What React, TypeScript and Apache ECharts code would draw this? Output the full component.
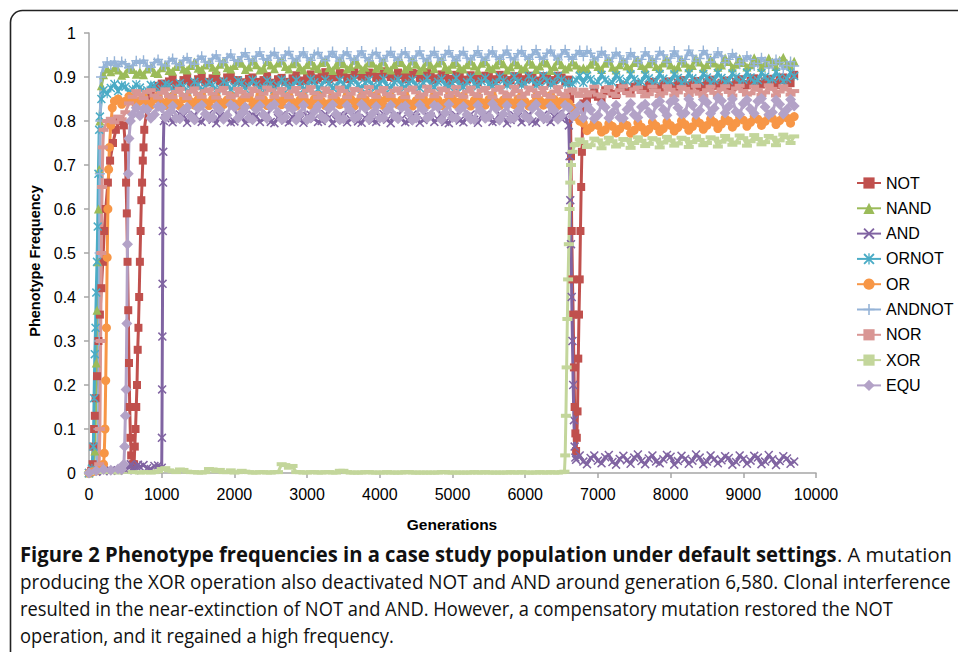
import React, { useEffect, useRef } from "react";
import * as echarts from "echarts";

// ---------- DATA ----------
const X_TICKS = [0, 1000, 2000, 3000, 4000, 5000, 6000, 7000, 8000, 9000, 10000];
const Y_TICKS = [0, 0.1, 0.2, 0.3, 0.4, 0.5, 0.6, 0.7, 0.8, 0.9, 1];

// generations sampled on the plateau part of every run
const GENS = [
  700, 800, 900, 1000, 1100, 1200, 1300, 1400, 1500, 1600,
  1700, 1800, 1900, 2000, 2100, 2200, 2300, 2400, 2500, 2600,
  2700, 2800, 2900, 3000, 3100, 3200, 3300, 3400, 3500, 3600,
  3700, 3800, 3900, 4000, 4100, 4200, 4300, 4400, 4500, 4600,
  4700, 4800, 4900, 5000, 5100, 5200, 5300, 5400, 5500, 5600,
  5700, 5800, 5900, 6000, 6100, 6200, 6300, 6400, 6500, 6600,
  6700, 6800, 6900, 7000, 7100, 7200, 7300, 7400, 7500, 7600,
  7700, 7800, 7900, 8000, 8100, 8200, 8300, 8400, 8500, 8600,
  8700, 8800, 8900, 9000, 9100, 9200, 9300, 9400, 9500, 9600,
  9700,
];
// in-between generations
const GENS_HALF = [
  750, 850, 950, 1050,
  1150, 1250, 1350, 1450, 1550, 1650, 1750, 1850, 1950, 2050,
  2150, 2250, 2350, 2450, 2550, 2650, 2750, 2850, 2950, 3050,
  3150, 3250, 3350, 3450, 3550, 3650, 3750, 3850, 3950, 4050,
  4150, 4250, 4350, 4450, 4550, 4650, 4750, 4850, 4950, 5050,
  5150, 5250, 5350, 5450, 5550, 5650, 5750, 5850, 5950, 6050,
  6150, 6250, 6350, 6450, 6550,
  6850, 6950, 7050, 7150, 7250, 7350, 7450, 7550, 7650, 7750,
  7850, 7950, 8050, 8150, 8250, 8350, 8450, 8550, 8650, 8750,
  8850, 8950, 9050, 9150, 9250, 9350, 9450, 9550, 9650,
];

// NOT
const NOT_EARLY = [
  [0, 0], [30, 0.005], [50, 0.02], [60, 0.06], [70, 0.1], [80, 0.13], [90, 0.17], [110, 0.22],
  [130, 0.3], [150, 0.36], [170, 0.42], [190, 0.48], [210, 0.55], [230, 0.6], [260, 0.66],
  [290, 0.71], [330, 0.75], [370, 0.78], [420, 0.8], [480, 0.79], [500, 0.74], [510, 0.66],
  [520, 0.59], [530, 0.48], [540, 0.37], [550, 0.25], [560, 0.15], [570, 0.08], [580, 0.04],
  [600, 0.02], [620, 0.02], [630, 0.06], [640, 0.1], [650, 0.15], [660, 0.2], [670, 0.28],
  [680, 0.33], [690, 0.4], [710, 0.55], [720, 0.62], [730, 0.66], [740, 0.71], [760, 0.78],
];
const NOT_VALUES = [
  0.48, 0.83, 0.875, 0.885, 0.89, 0.882, 0.893, 0.886, 0.895, 0.888,
  0.897, 0.89, 0.899, 0.892, 0.888, 0.896, 0.889, 0.893, 0.887, 0.895,
  0.889, 0.897, 0.891, 0.899, 0.893, 0.902, 0.895, 0.9, 0.906, 0.898,
  0.905, 0.899, 0.908, 0.901, 0.906, 0.898, 0.904, 0.9, 0.907, 0.899,
  0.904, 0.897, 0.903, 0.896, 0.901, 0.894, 0.9, 0.896, 0.902, 0.895,
  0.899, 0.893, 0.9, 0.895, 0.898, 0.892, 0.897, 0.893, 0.899, 0.894,
  0.05, 0.84, 0.86, 0.855, 0.87, 0.862, 0.875, 0.868, 0.878, 0.871,
  0.882, 0.876, 0.885, 0.879, 0.887, 0.881, 0.886, 0.88, 0.888, 0.883,
  0.887, 0.881, 0.889, 0.884, 0.891, 0.885, 0.89, 0.886, 0.893, 0.888,
  0.905,
];
const NOT_HALF = [
  0.74, 0.86, 0.88, 0.878,
  0.896, 0.884, 0.899, 0.887, 0.901, 0.889, 0.903, 0.885, 0.9, 0.893,
  0.884, 0.899, 0.886, 0.902, 0.883, 0.898, 0.888, 0.904, 0.892, 0.906,
  0.897, 0.911, 0.899, 0.909, 0.895, 0.912, 0.901, 0.91, 0.898, 0.913,
  0.9, 0.91, 0.895, 0.909, 0.897, 0.911, 0.893, 0.906, 0.891, 0.905,
  0.89, 0.904, 0.888, 0.903, 0.889, 0.905, 0.887, 0.902, 0.886, 0.903,
  0.888, 0.902, 0.887, 0.903, 0.889,
  0.848, 0.872, 0.85, 0.868, 0.859, 0.881, 0.864, 0.884, 0.872, 0.889,
  0.874, 0.89, 0.877, 0.893, 0.879, 0.891, 0.876, 0.894, 0.88, 0.892,
  0.878, 0.895, 0.881, 0.897, 0.883, 0.896, 0.882, 0.899, 0.886,
];
const NOT_EXTRA = [
  [6620, 0.85], [6630, 0.72], [6640, 0.55], [6650, 0.44], [6660, 0.36], [6670, 0.24], [6680, 0.15],
  [6690, 0.09], [6710, 0.08], [6720, 0.14], [6730, 0.26], [6740, 0.36], [6750, 0.44], [6760, 0.55],
  [6770, 0.65], [6780, 0.73], [6790, 0.8],
];

// NAND
const NAND_EARLY = [
  [0, 0], [50, 0.005], [80, 0.05], [100, 0.25], [110, 0.37], [120, 0.48], [130, 0.6], [140, 0.69],
  [150, 0.8], [170, 0.88], [200, 0.905], [250, 0.918], [300, 0.912], [350, 0.921], [400, 0.916],
  [450, 0.904], [500, 0.908], [550, 0.92], [600, 0.917], [650, 0.906],
];
const NAND_VALUES = [
  0.912, 0.918, 0.91, 0.921, 0.915, 0.924, 0.918, 0.926, 0.92, 0.927,
  0.922, 0.929, 0.921, 0.926, 0.931, 0.923, 0.928, 0.92, 0.927, 0.932,
  0.924, 0.93, 0.922, 0.928, 0.925, 0.933, 0.921, 0.927, 0.93, 0.924,
  0.929, 0.922, 0.931, 0.926, 0.92, 0.928, 0.933, 0.924, 0.929, 0.922,
  0.927, 0.932, 0.923, 0.929, 0.921, 0.928, 0.925, 0.931, 0.922, 0.927,
  0.93, 0.923, 0.928, 0.921, 0.929, 0.925, 0.932, 0.924, 0.928, 0.923,
  0.927, 0.921, 0.929, 0.924, 0.931, 0.922, 0.928, 0.925, 0.933, 0.926,
  0.93, 0.924, 0.932, 0.927, 0.923, 0.931, 0.926, 0.934, 0.928, 0.932,
  0.927, 0.935, 0.929, 0.933, 0.928, 0.936, 0.93, 0.934, 0.938, 0.931,
  0.936,
];
const NAND_HALF = [
  0.905, 0.922, 0.908, 0.928,
  0.913, 0.93, 0.916, 0.934, 0.917, 0.933, 0.915, 0.936, 0.918, 0.935,
  0.917, 0.937, 0.916, 0.935, 0.919, 0.938, 0.918, 0.934, 0.916, 0.936,
  0.919, 0.937, 0.915, 0.935, 0.918, 0.938, 0.917, 0.933, 0.92, 0.936,
  0.916, 0.935, 0.918, 0.937, 0.915, 0.934, 0.919, 0.938, 0.917, 0.933,
  0.918, 0.936, 0.915, 0.935, 0.919, 0.937, 0.916, 0.934, 0.918, 0.936,
  0.917, 0.935, 0.915, 0.937, 0.918,
  0.918, 0.936, 0.917, 0.938, 0.916, 0.937, 0.919, 0.939, 0.918, 0.938,
  0.92, 0.94, 0.918, 0.939, 0.921, 0.942, 0.92, 0.94, 0.922, 0.943,
  0.921, 0.942, 0.923, 0.944, 0.922, 0.943, 0.924, 0.945, 0.925,
];
const NAND_EXTRA = [[6650, 0.934], [6750, 0.918]];

// AND
const AND_EARLY = [
  [0, 0], [100, 0.003], [200, 0.004], [300, 0.006], [400, 0.005], [500, 0.008], [550, 0.012],
  [575, 0.02], [600, 0.01], [625, 0.006], [650, 0.015], [675, 0.019],
];
const AND_VALUES = [
  0.014, 0.011, 0.016, 0.012, 0.81, 0.804, 0.812, 0.806, 0.801, 0.809,
  0.803, 0.811, 0.805, 0.799, 0.808, 0.802, 0.81, 0.804, 0.798, 0.807,
  0.801, 0.809, 0.803, 0.811, 0.805, 0.8, 0.808, 0.802, 0.81, 0.804,
  0.799, 0.807, 0.801, 0.809, 0.803, 0.811, 0.805, 0.8, 0.808, 0.802,
  0.81, 0.804, 0.798, 0.806, 0.801, 0.809, 0.803, 0.811, 0.805, 0.8,
  0.807, 0.802, 0.81, 0.804, 0.799, 0.808, 0.803, 0.81, 0.805, 0.79,
  0.03, 0.026, 0.034, 0.028, 0.036, 0.025, 0.032, 0.029, 0.035, 0.027,
  0.033, 0.026, 0.031, 0.037, 0.027, 0.032, 0.028, 0.035, 0.026, 0.031,
  0.029, 0.034, 0.025, 0.032, 0.028, 0.035, 0.026, 0.031, 0.027, 0.033,
  0.026,
];
const AND_HALF = [
  0.018, 0.009, 0.017, 0.806,
  0.797, 0.815, 0.796, 0.814, 0.798, 0.816, 0.795, 0.813, 0.797, 0.815,
  0.796, 0.814, 0.798, 0.816, 0.795, 0.813, 0.797, 0.815, 0.796, 0.814,
  0.798, 0.816, 0.795, 0.813, 0.797, 0.815, 0.796, 0.814, 0.798, 0.816,
  0.795, 0.813, 0.797, 0.815, 0.796, 0.814, 0.798, 0.816, 0.795, 0.813,
  0.797, 0.815, 0.796, 0.814, 0.798, 0.816, 0.795, 0.813, 0.797, 0.815,
  0.796, 0.814, 0.798, 0.816, 0.81,
  0.02, 0.04, 0.022, 0.041, 0.019, 0.039, 0.021, 0.042, 0.02, 0.04,
  0.022, 0.041, 0.019, 0.039, 0.021, 0.042, 0.02, 0.04, 0.022, 0.038,
  0.019, 0.04, 0.021, 0.039, 0.02, 0.041, 0.018, 0.038, 0.021,
];
const AND_EXTRA = [
  [1003, 0.08], [1006, 0.19], [1009, 0.31], [1012, 0.43], [1015, 0.55], [1018, 0.66], [1021, 0.73],
  [1030, 0.8],
  [6610, 0.72], [6620, 0.62], [6630, 0.52], [6640, 0.4], [6650, 0.3], [6660, 0.2], [6670, 0.12],
  [6680, 0.06], [6690, 0.035], [6750, 0.04],
];

// ORNOT
const ORNOT_EARLY = [
  [0, 0], [40, 0.01], [60, 0.06], [70, 0.17], [80, 0.27], [90, 0.33], [100, 0.41], [110, 0.48],
  [120, 0.56], [130, 0.68], [140, 0.78], [150, 0.81], [170, 0.85], [200, 0.87], [250, 0.862],
  [300, 0.875], [350, 0.884], [400, 0.868], [450, 0.881], [500, 0.878], [550, 0.865], [600, 0.872],
  [650, 0.883],
];
const ORNOT_VALUES = [
  0.876, 0.87, 0.88, 0.873, 0.882, 0.875, 0.879, 0.872, 0.883, 0.877,
  0.881, 0.874, 0.884, 0.878, 0.886, 0.879, 0.883, 0.876, 0.885, 0.88,
  0.887, 0.879, 0.884, 0.878, 0.888, 0.881, 0.886, 0.879, 0.884, 0.889,
  0.882, 0.887, 0.88, 0.885, 0.879, 0.888, 0.882, 0.886, 0.88, 0.887,
  0.883, 0.889, 0.881, 0.886, 0.88, 0.888, 0.884, 0.89, 0.883, 0.887,
  0.892, 0.885, 0.89, 0.884, 0.893, 0.886, 0.891, 0.887, 0.894, 0.888,
  0.893, 0.887, 0.895, 0.889, 0.894, 0.888, 0.896, 0.89, 0.895, 0.889,
  0.897, 0.891, 0.896, 0.89, 0.898, 0.892, 0.897, 0.891, 0.899, 0.893,
  0.898, 0.892, 0.9, 0.894, 0.899, 0.893, 0.901, 0.895, 0.9, 0.896,
  0.902,
];
const ORNOT_HALF = [
  0.866, 0.882, 0.865, 0.884,
  0.868, 0.886, 0.867, 0.889, 0.869, 0.888, 0.87, 0.89, 0.871, 0.892,
  0.872, 0.893, 0.873, 0.892, 0.871, 0.894, 0.874, 0.893, 0.872, 0.895,
  0.873, 0.894, 0.875, 0.893, 0.872, 0.895, 0.874, 0.894, 0.876, 0.896,
  0.874, 0.895, 0.876, 0.894, 0.875, 0.897, 0.877, 0.896, 0.878, 0.898,
  0.877, 0.899, 0.879, 0.898, 0.88, 0.9, 0.881, 0.901, 0.882, 0.902,
  0.881, 0.903, 0.883, 0.902, 0.884,
  0.903, 0.882, 0.905, 0.884, 0.904, 0.883, 0.906, 0.885, 0.905, 0.884,
  0.907, 0.885, 0.906, 0.886, 0.908, 0.887, 0.907, 0.886, 0.909, 0.888,
  0.908, 0.887, 0.91, 0.888, 0.909, 0.889, 0.911, 0.89, 0.91,
];
const ORNOT_EXTRA = [[6650, 0.884], [6750, 0.903]];

// OR
const OR_EARLY = [
  [0, 0], [50, 0.003], [100, 0.005], [150, 0.01], [200, 0.02], [210, 0.045], [220, 0.1], [230, 0.21],
  [240, 0.33], [250, 0.49], [260, 0.6], [270, 0.69], [280, 0.74], [300, 0.79], [320, 0.83],
  [350, 0.845], [400, 0.85], [450, 0.838], [500, 0.845], [550, 0.856], [600, 0.848], [650, 0.836],
];
const OR_VALUES = [
  0.846, 0.84, 0.85, 0.843, 0.848, 0.841, 0.851, 0.844, 0.849, 0.842,
  0.85, 0.843, 0.848, 0.84, 0.847, 0.852, 0.844, 0.849, 0.841, 0.846,
  0.851, 0.843, 0.848, 0.842, 0.85, 0.845, 0.84, 0.848, 0.843, 0.85,
  0.844, 0.849, 0.841, 0.847, 0.852, 0.843, 0.848, 0.84, 0.846, 0.851,
  0.843, 0.848, 0.841, 0.85, 0.844, 0.839, 0.847, 0.842, 0.849, 0.843,
  0.848, 0.842, 0.85, 0.844, 0.839, 0.847, 0.842, 0.849, 0.845, 0.84,
  0.81, 0.795, 0.785, 0.79, 0.78, 0.788, 0.782, 0.79, 0.779, 0.786,
  0.781, 0.789, 0.783, 0.79, 0.785, 0.792, 0.787, 0.795, 0.79, 0.797,
  0.793, 0.8, 0.795, 0.802, 0.797, 0.804, 0.799, 0.806, 0.801, 0.807,
  0.81,
];
const OR_HALF = [
  0.855, 0.836, 0.857, 0.835,
  0.856, 0.834, 0.855, 0.836, 0.858, 0.835, 0.856, 0.837, 0.857, 0.834,
  0.855, 0.836, 0.858, 0.835, 0.856, 0.837, 0.857, 0.834, 0.855, 0.836,
  0.858, 0.835, 0.856, 0.837, 0.857, 0.834, 0.855, 0.836, 0.858, 0.835,
  0.856, 0.837, 0.857, 0.834, 0.855, 0.836, 0.858, 0.835, 0.856, 0.837,
  0.857, 0.834, 0.855, 0.836, 0.858, 0.835, 0.856, 0.837, 0.857, 0.834,
  0.855, 0.836, 0.858, 0.835, 0.852,
  0.778, 0.796, 0.775, 0.794, 0.773, 0.795, 0.772, 0.796, 0.774, 0.797,
  0.776, 0.798, 0.777, 0.8, 0.779, 0.802, 0.781, 0.804, 0.783, 0.806,
  0.786, 0.808, 0.788, 0.81, 0.79, 0.812, 0.792, 0.814, 0.795,
];
const OR_EXTRA = [[6650, 0.83], [6750, 0.8]];

// ANDNOT
const ANDNOT_EARLY = [
  [0, 0], [100, 0.005], [130, 0.1], [140, 0.3], [145, 0.5], [150, 0.68], [155, 0.8], [165, 0.9],
  [200, 0.922], [250, 0.934], [300, 0.927], [350, 0.936], [400, 0.924], [450, 0.935], [500, 0.93],
  [550, 0.921], [600, 0.926], [650, 0.937],
];
const ANDNOT_VALUES = [
  0.931, 0.925, 0.933, 0.928, 0.936, 0.93, 0.938, 0.932, 0.94, 0.934,
  0.942, 0.936, 0.944, 0.938, 0.946, 0.94, 0.947, 0.941, 0.949, 0.943,
  0.95, 0.942, 0.948, 0.944, 0.951, 0.943, 0.947, 0.945, 0.95, 0.942,
  0.948, 0.944, 0.951, 0.943, 0.949, 0.945, 0.952, 0.944, 0.948, 0.942,
  0.949, 0.944, 0.951, 0.946, 0.95, 0.943, 0.949, 0.945, 0.952, 0.946,
  0.95, 0.944, 0.953, 0.947, 0.951, 0.945, 0.954, 0.948, 0.952, 0.946,
  0.951, 0.947, 0.954, 0.945, 0.95, 0.943, 0.948, 0.941, 0.946, 0.94,
  0.948, 0.941, 0.95, 0.943, 0.947, 0.94, 0.949, 0.942, 0.951, 0.944,
  0.948, 0.94, 0.945, 0.936, 0.94, 0.931, 0.935, 0.928, 0.933, 0.926,
  0.925,
];
const ANDNOT_HALF = [
  0.938, 0.922, 0.94, 0.925,
  0.942, 0.926, 0.944, 0.929, 0.947, 0.931, 0.95, 0.933, 0.952, 0.935,
  0.955, 0.936, 0.957, 0.938, 0.956, 0.937, 0.958, 0.936, 0.957, 0.938,
  0.956, 0.937, 0.958, 0.936, 0.957, 0.938, 0.959, 0.937, 0.956, 0.936,
  0.958, 0.938, 0.957, 0.937, 0.959, 0.936, 0.958, 0.938, 0.96, 0.937,
  0.958, 0.939, 0.96, 0.938, 0.959, 0.94, 0.961, 0.939, 0.96, 0.94,
  0.962, 0.94, 0.961, 0.939, 0.962,
  0.96, 0.939, 0.958, 0.935, 0.956, 0.934, 0.955, 0.933, 0.957, 0.935,
  0.958, 0.934, 0.959, 0.935, 0.961, 0.936, 0.96, 0.934, 0.957, 0.933,
  0.953, 0.929, 0.948, 0.925, 0.944, 0.921, 0.94, 0.918, 0.935,
];
const ANDNOT_EXTRA = [[6650, 0.94], [6750, 0.96]];

// NOR
const NOR_EARLY = [
  [0, 0], [100, 0.005], [140, 0.02], [150, 0.1], [160, 0.3], [170, 0.5], [180, 0.65], [190, 0.74],
  [200, 0.78], [250, 0.8], [300, 0.805], [350, 0.797], [400, 0.81], [450, 0.804], [500, 0.82],
  [550, 0.84], [600, 0.855], [650, 0.868],
];
const NOR_VALUES = [
  0.86, 0.866, 0.858, 0.864, 0.857, 0.866, 0.859, 0.867, 0.861, 0.868,
  0.862, 0.869, 0.863, 0.858, 0.866, 0.86, 0.868, 0.862, 0.87, 0.864,
  0.859, 0.867, 0.861, 0.869, 0.863, 0.858, 0.866, 0.86, 0.868, 0.862,
  0.87, 0.864, 0.859, 0.867, 0.861, 0.869, 0.863, 0.871, 0.865, 0.86,
  0.868, 0.862, 0.87, 0.864, 0.859, 0.867, 0.861, 0.869, 0.863, 0.871,
  0.865, 0.86, 0.868, 0.862, 0.87, 0.864, 0.859, 0.867, 0.861, 0.869,
  0.863, 0.871, 0.865, 0.86, 0.868, 0.862, 0.87, 0.864, 0.872, 0.866,
  0.861, 0.869, 0.863, 0.871, 0.865, 0.873, 0.867, 0.862, 0.87, 0.864,
  0.872, 0.866, 0.874, 0.868, 0.863, 0.871, 0.865, 0.873, 0.867, 0.872,
  0.868,
];
const NOR_HALF = [
  0.852, 0.87, 0.853, 0.872,
  0.854, 0.873, 0.852, 0.874, 0.855, 0.872, 0.853, 0.875, 0.854, 0.873,
  0.856, 0.874, 0.853, 0.876, 0.855, 0.873, 0.854, 0.875, 0.856, 0.877,
  0.853, 0.874, 0.855, 0.876, 0.854, 0.873, 0.856, 0.877, 0.855, 0.875,
  0.857, 0.874, 0.854, 0.876, 0.855, 0.878, 0.856, 0.874, 0.857, 0.877,
  0.855, 0.876, 0.857, 0.875, 0.854, 0.877, 0.856, 0.878, 0.855, 0.876,
  0.857, 0.875, 0.855, 0.877, 0.856,
  0.858, 0.878, 0.856, 0.877, 0.857, 0.879, 0.858, 0.876, 0.856, 0.878,
  0.857, 0.879, 0.858, 0.877, 0.859, 0.88, 0.857, 0.878, 0.859, 0.879,
  0.858, 0.88, 0.86, 0.878, 0.859, 0.881, 0.858, 0.879, 0.86,
];
const NOR_EXTRA = [[6650, 0.872], [6750, 0.857]];

// XOR
const XOR_EARLY = [[0, 0], [200, 0.002], [400, 0.001], [600, 0.002]];
const XOR_VALUES = [
  0.001, 0.002, 0.002, 0.009, 0.006, 0.002, 0.007, 0.002, 0.001, 0.002,
  0.008, 0.007, 0.002, 0.001, 0.005, 0.002, 0.001, 0.002, 0.001, 0.002,
  0.018, 0.016, 0.002, 0.001, 0.002, 0.001, 0.002, 0.001, 0.005, 0.001,
  0.001, 0.002, 0.001, 0.001, 0.002, 0.001, 0.001, 0.002, 0.001, 0.001,
  0.001, 0.001, 0.002, 0.001, 0.001, 0.001, 0.002, 0.001, 0.001, 0.001,
  0.001, 0.002, 0.001, 0.001, 0.001, 0.002, 0.001, 0.001, 0.002, 0.52,
  0.748, 0.752, 0.745, 0.756, 0.749, 0.754, 0.746, 0.757, 0.75, 0.755,
  0.748, 0.758, 0.751, 0.756, 0.749, 0.759, 0.752, 0.757, 0.75, 0.76,
  0.753, 0.758, 0.751, 0.761, 0.754, 0.759, 0.752, 0.762, 0.756, 0.763,
  0.765,
];
const XOR_HALF = [
  0.002, 0.001, 0.004, 0.011,
  0.004, 0.008, 0.003, 0.002, 0.001, 0.009, 0.004, 0.002, 0.006, 0.002,
  0.003, 0.001, 0.002, 0.001, 0.002, 0.02, 0.012, 0.002, 0.001, 0.002,
  0.001, 0.002, 0.001, 0.005, 0.002, 0.001, 0.001, 0.002, 0.001, 0.001,
  0.001, 0.001, 0.002, 0.001, 0.001, 0.001, 0.001, 0.002, 0.001, 0.001,
  0.001, 0.001, 0.001, 0.002, 0.001, 0.001, 0.001, 0.001, 0.002, 0.001,
  0.001, 0.001, 0.002, 0.001, 0.04,
  0.741, 0.76, 0.738, 0.762, 0.742, 0.759, 0.739, 0.763, 0.743, 0.761,
  0.74, 0.764, 0.744, 0.762, 0.741, 0.765, 0.745, 0.763, 0.742, 0.766,
  0.746, 0.767, 0.744, 0.768, 0.747, 0.766, 0.745, 0.769, 0.75,
];
const XOR_EXTRA = [
  [6540, 0.003], [6560, 0.13], [6570, 0.24], [6580, 0.35], [6590, 0.44], [6610, 0.6],
  [6620, 0.66], [6630, 0.7], [6650, 0.73], [6680, 0.745], [6750, 0.758],
];

// EQU
const EQU_EARLY = [
  [0, 0], [100, 0.005], [200, 0.008], [300, 0.006], [400, 0.009], [450, 0.008], [480, 0.02],
  [490, 0.06], [500, 0.13], [510, 0.19], [520, 0.34], [530, 0.52], [540, 0.68], [550, 0.76],
  [570, 0.8], [600, 0.815], [650, 0.83],
];
const EQU_VALUES = [
  0.812, 0.826, 0.815, 0.83, 0.818, 0.806, 0.824, 0.811, 0.829, 0.816,
  0.808, 0.825, 0.813, 0.831, 0.819, 0.807, 0.826, 0.814, 0.832, 0.82,
  0.809, 0.827, 0.815, 0.803, 0.822, 0.81, 0.828, 0.816, 0.805, 0.823,
  0.811, 0.829, 0.817, 0.806, 0.824, 0.812, 0.83, 0.818, 0.807, 0.825,
  0.813, 0.831, 0.819, 0.808, 0.826, 0.814, 0.803, 0.821, 0.81, 0.828,
  0.816, 0.805, 0.823, 0.811, 0.829, 0.817, 0.806, 0.824, 0.812, 0.83,
  0.818, 0.807, 0.825, 0.813, 0.831, 0.819, 0.808, 0.826, 0.814, 0.832,
  0.82, 0.838, 0.826, 0.843, 0.83, 0.818, 0.836, 0.824, 0.842, 0.829,
  0.846, 0.833, 0.821, 0.839, 0.827, 0.845, 0.832, 0.82, 0.838, 0.826,
  0.834,
];
const EQU_HALF = [
  0.828, 0.806, 0.833, 0.808,
  0.834, 0.805, 0.831, 0.803, 0.836, 0.807, 0.833, 0.804, 0.837, 0.806,
  0.832, 0.803, 0.835, 0.806, 0.838, 0.804, 0.833, 0.802, 0.836, 0.807,
  0.834, 0.805, 0.837, 0.803, 0.835, 0.806, 0.838, 0.804, 0.833, 0.807,
  0.836, 0.805, 0.834, 0.802, 0.837, 0.806, 0.835, 0.803, 0.838, 0.807,
  0.833, 0.804, 0.836, 0.806, 0.839, 0.803, 0.835, 0.807, 0.837, 0.805,
  0.838, 0.806, 0.834, 0.804, 0.836,
  0.837, 0.805, 0.839, 0.807, 0.836, 0.806, 0.84, 0.808, 0.838, 0.811,
  0.845, 0.813, 0.848, 0.816, 0.85, 0.815, 0.849, 0.817, 0.852, 0.818,
  0.85, 0.815, 0.848, 0.817, 0.851, 0.814, 0.847, 0.816, 0.849,
];
const EQU_EXTRA = [[6650, 0.81], [6750, 0.835]];

// ---------- TEXT ----------
const Y_TITLE = "Phenotype Frequency";
const X_TITLE = "Generations";
const CAPTION_BOLD = "Figure 2 Phenotype frequencies in a case study population under default settings";
const CAPTION_LINES = [
  ". A mutation",
  "producing the XOR operation also deactivated NOT and AND around generation 6,580. Clonal interference",
  "resulted in the near-extinction of NOT and AND. However, a compensatory mutation restored the NOT",
  "operation, and it regained a high frequency.",
];

// ---------- STYLE ----------
const X_PATH = "path://M0,1.2L1.2,0L5,3.8L8.8,0L10,1.2L6.2,5L10,8.8L8.8,10L5,6.2L1.2,10L0,8.8L3.8,5Z";
const STAR_PATH =
  "path://M0,1.2L1.2,0L5,3.8L8.8,0L10,1.2L6.2,5L10,8.8L8.8,10L5,6.2L1.2,10L0,8.8L3.8,5Z M4.4,0L5.6,0L5.6,10L4.4,10Z";
const PLUS_PATH = "path://M4.3,0H5.7V4.3H10V5.7H5.7V10H4.3V5.7H0V4.3H4.3Z";

const SERIES = [
  { name: "NOT", color: "#C0504D", symbol: "rect", size: 8, early: NOT_EARLY, values: NOT_VALUES, half: NOT_HALF, extra: NOT_EXTRA },
  { name: "NAND", color: "#9BBB59", symbol: "triangle", size: 9, early: NAND_EARLY, values: NAND_VALUES, half: NAND_HALF, extra: NAND_EXTRA },
  { name: "AND", color: "#8064A2", symbol: X_PATH, size: 9, early: AND_EARLY, values: AND_VALUES, half: AND_HALF, extra: AND_EXTRA },
  { name: "ORNOT", color: "#4BACC6", symbol: STAR_PATH, size: 9, early: ORNOT_EARLY, values: ORNOT_VALUES, half: ORNOT_HALF, extra: ORNOT_EXTRA },
  { name: "OR", color: "#F79646", symbol: "circle", size: 9, early: OR_EARLY, values: OR_VALUES, half: OR_HALF, extra: OR_EXTRA },
  { name: "ANDNOT", color: "#95B3D7", symbol: PLUS_PATH, size: 10, early: ANDNOT_EARLY, values: ANDNOT_VALUES, half: ANDNOT_HALF, extra: ANDNOT_EXTRA },
  { name: "NOR", color: "#D99694", symbol: "rect", size: [10, 4], early: NOR_EARLY, values: NOR_VALUES, half: NOR_HALF, extra: NOR_EXTRA },
  { name: "XOR", color: "#C3D69B", symbol: "rect", size: [10, 4], early: XOR_EARLY, values: XOR_VALUES, half: XOR_HALF, extra: XOR_EXTRA },
  { name: "EQU", color: "#B3A2C7", symbol: "diamond", size: 11, early: EQU_EARLY, values: EQU_VALUES, half: EQU_HALF, extra: EQU_EXTRA },
];

const FONT = "'Liberation Sans', Arial, sans-serif";
const CAP_FONT = "'Open Sans', 'Noto Sans', sans-serif";
const CAP_SIZE = 20.5;

function measure(text: string, font: string): number {
  const c = document.createElement("canvas").getContext("2d");
  if (!c) return text.length * 9;
  c.font = font;
  return c.measureText(text).width;
}

export default function App() {
  const ref = useRef<HTMLDivElement>(null);

  useEffect(() => {
    if (!ref.current) return;
    const chart = echarts.init(ref.current, null, { renderer: "svg" });

    const series = SERIES.map((s) => {
      const data = [
        ...s.early,
        ...GENS.map((g, i) => [g, s.values[i]]),
        ...GENS_HALF.map((g, i) => [g, s.half[i]]),
        ...s.extra,
      ]
        .filter((p) => typeof p[1] === "number")
        .sort((a, b) => a[0] - b[0]);
      return {
        type: "line",
        name: s.name,
        data,
        symbol: s.symbol,
        symbolSize: s.size,
        showSymbol: true,
        showAllSymbol: true,
        lineStyle: { color: s.color, width: 3 },
        itemStyle: { color: s.color },
        emphasis: { disabled: true },
        animation: false,
      };
    });

    // caption layout
    const regF = `${CAP_SIZE}px ${CAP_FONT}`;
    const boldF = `bold ${CAP_SIZE}px ${CAP_FONT}`;
    const w1 = measure(CAPTION_BOLD, boldF) + measure(CAPTION_LINES[0], regF);
    const w2 = measure(CAPTION_LINES[1], regF);
    const w3 = measure(CAPTION_LINES[2], regF);
    const s1 = 932 / w1;
    const s2 = 932 / w2;
    const s3 = 873 / w3;
    const capY = [554, 581, 608, 635];

    const capStyle = { fontSize: CAP_SIZE, fontFamily: CAP_FONT, fill: "#111" };

    const option = {
      animation: false,
      backgroundColor: "#fff",
      grid: { left: 89, right: 142, top: 33, bottom: 179, containLabel: false, outerBoundsMode: "none" },
      xAxis: {
        type: "value",
        min: 0,
        max: 10000,
        interval: 1000,
        axisLine: { show: true, lineStyle: { color: "#A6A6A6", width: 1.5 } },
        axisTick: { show: true, length: 5, lineStyle: { color: "#A6A6A6", width: 1.5 } },
        splitLine: { show: false },
        axisLabel: {
          show: true,
          margin: 13,
          color: "#000",
          fontSize: 16,
          fontFamily: FONT,
          formatter: (v: number) => String(v),
        },
      },
      yAxis: {
        type: "value",
        min: 0,
        max: 1,
        interval: 0.1,
        axisLine: { show: true, lineStyle: { color: "#A6A6A6", width: 1.5 } },
        axisTick: { show: true, length: 5, lineStyle: { color: "#A6A6A6", width: 1.5 } },
        splitLine: { show: false },
        axisLabel: {
          show: true,
          margin: 13,
          color: "#000",
          fontSize: 16,
          fontFamily: FONT,
          formatter: (v: number) => String(+v.toFixed(1)),
        },
      },
      legend: {
        show: true,
        orient: "vertical",
        left: 856,
        top: 175,
        padding: 0,
        itemWidth: 24,
        itemHeight: 14,
        itemGap: 9.3,
        textStyle: { color: "#000", fontSize: 16, fontFamily: FONT },
        data: SERIES.map((s) => s.name),
        selectedMode: false,
      },
      series,
      graphic: {
        elements: [
          {
            type: "rect",
            silent: true,
            z: -10,
            shape: { x: 10.5, y: 10.5, width: 1000, height: 700, r: 12 },
            style: { fill: "none", stroke: "#222", lineWidth: 1.6 },
          },
          {
            type: "text",
            x: 35,
            y: 261,
            rotation: Math.PI / 2,
            style: {
              text: Y_TITLE,
              fontSize: 14.5,
              fontWeight: "bold",
              fontFamily: FONT,
              fill: "#000",
              textAlign: "center",
              textVerticalAlign: "middle",
            },
          },
          {
            type: "text",
            x: 452,
            y: 524,
            style: {
              text: X_TITLE,
              fontSize: 15.5,
              fontWeight: "bold",
              fontFamily: FONT,
              fill: "#000",
              textAlign: "center",
              textVerticalAlign: "middle",
            },
          },
          {
            type: "text",
            x: 20,
            y: capY[0],
            scaleX: s1,
            style: {
              ...capStyle,
              text: `{b|${CAPTION_BOLD}}${CAPTION_LINES[0]}`,
              rich: { b: { fontWeight: "bold", fontSize: CAP_SIZE, fontFamily: CAP_FONT, fill: "#111" } },
              textAlign: "left",
              textVerticalAlign: "middle",
            },
          },
          {
            type: "text",
            x: 20,
            y: capY[1],
            scaleX: s2,
            style: { ...capStyle, text: CAPTION_LINES[1], textAlign: "left", textVerticalAlign: "middle" },
          },
          {
            type: "text",
            x: 20,
            y: capY[2],
            scaleX: s3,
            style: { ...capStyle, text: CAPTION_LINES[2], textAlign: "left", textVerticalAlign: "middle" },
          },
          {
            type: "text",
            x: 20,
            y: capY[3],
            scaleX: s3,
            style: { ...capStyle, text: CAPTION_LINES[3], textAlign: "left", textVerticalAlign: "middle" },
          },
        ],
      },
    };

    chart.setOption(option as any);
    return () => chart.dispose();
  }, []);

  return (
    <div
      ref={ref}
      style={{ position: "fixed", left: 0, top: 0, width: 958, height: 652, background: "#fff" }}
    />
  );
}
